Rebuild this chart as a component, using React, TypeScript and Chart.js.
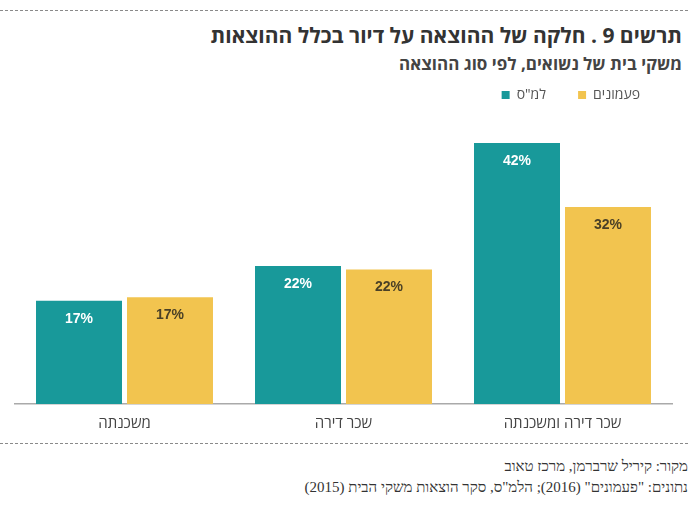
import React, { useEffect, useRef } from "react";
import { Chart, registerables } from "chart.js";

Chart.register(...registerables);

const categories = ["משכנתה", "שכר דירה", "שכר דירה ומשכנתה"];
const seriesNames = ["למ\"ס", "פעמונים"];
const lamasValues = [16.6, 22.2, 42];
const paamonimValues = [17.2, 21.65, 31.7];
const title = "תרשים 9 . חלקה של ההוצאה על דיור בכלל ההוצאות";
const subtitle = "משקי בית של נשואים, לפי סוג ההוצאה";
const sourceLine = "מקור: קיריל שרברמן, מרכז טאוב";
const dataLine = "נתונים: \"פעמונים\" (2016); הלמ\"ס, סקר הוצאות משקי הבית (2015)";

const TEAL = "#18999a";
const YELLOW = "#f2c44f";
const SANS = "'Open Sans', 'Liberation Sans', 'DejaVu Sans', sans-serif";
const SERIF = "'Liberation Serif', 'DejaVu Serif', serif";

const labelPlugin = {
  id: "barLabels",
  afterDatasetsDraw(chart: any) {
    const ctx = chart.ctx;
    ctx.save();
    ctx.font = `bold 14px 'Liberation Sans', Arial, sans-serif`;
    ctx.textAlign = "center";
    ctx.textBaseline = "middle";
    chart.data.datasets.forEach((ds: any, di: number) => {
      const meta = chart.getDatasetMeta(di);
      ctx.fillStyle = di === 0 ? "#ffffff" : "#4a4026";
      meta.data.forEach((bar: any, i: number) => {
        const v = ds.data[i];
        ctx.fillText(Math.round(v) + "%", bar.x, bar.y + 18);
      });
    });
    ctx.restore();
  },
};

const dashed = (top: number): React.CSSProperties => ({
  position: "absolute",
  left: 0,
  top,
  width: 690,
  height: 1,
  backgroundImage: "repeating-linear-gradient(to right, #8a8a8a 0 3px, transparent 3px 5px)",
});

export default function App() {
  const ref = useRef<HTMLCanvasElement | null>(null);
  useEffect(() => {
    if (!ref.current) return;
    const chart = new Chart(ref.current, {
      type: "bar",
      data: {
        labels: categories,
        datasets: [
          { label: seriesNames[0], data: lamasValues, backgroundColor: TEAL },
          { label: seriesNames[1], data: paamonimValues, backgroundColor: YELLOW },
        ],
      },
      options: {
        animation: false,
        responsive: false,
        maintainAspectRatio: false,
        layout: { padding: { left: 15, right: 28, top: 0, bottom: 0 } },
        datasets: { bar: { categoryPercentage: 0.831, barPercentage: 0.945 } },
        plugins: {
          legend: {
            display: true,
            position: "top",
            align: "end",
            labels: {
              boxWidth: 8,
              boxHeight: 8,
              padding: 32,
              color: "#555",
              font: { size: 14, family: SANS },
            },
          },
          tooltip: { enabled: false },
          title: { display: false },
        },
        scales: {
          x: {
            grid: { display: false, drawTicks: false },
            border: { display: true, color: "#aaaaaa", width: 1.5 },
            ticks: { color: "#444", font: { size: 15, family: SANS }, padding: 11 },
          },
          y: { display: false, min: 0, max: 47 },
        },
      },
      plugins: [labelPlugin],
    });
    return () => chart.destroy();
  }, []);

  return (
    <div style={{ position: "absolute", left: 0, top: 0, width: 700, height: 505, background: "#fff" }}>
      <div style={dashed(10)} />
      <div
        dir="rtl"
        style={{
          position: "absolute",
          right: 18,
          top: 20,
          fontFamily: SANS,
          fontWeight: 700,
          fontSize: 21,
          lineHeight: "30px",
          color: "#333",
          whiteSpace: "nowrap",
        }}
      >
        {title}
      </div>
      <div
        dir="rtl"
        style={{
          position: "absolute",
          right: 18,
          top: 53,
          fontFamily: SANS,
          fontWeight: 700,
          fontSize: 17,
          lineHeight: "22px",
          color: "#444",
          whiteSpace: "nowrap",
        }}
      >
        {subtitle}
      </div>
      <canvas ref={ref} width={700} height={388} style={{ position: "absolute", left: 0, top: 56, width: 700, height: 388 }} />
      <div style={dashed(443)} />
      <div
        dir="rtl"
        style={{
          position: "absolute",
          right: 12,
          top: 456,
          fontFamily: SERIF,
          fontSize: 15,
          lineHeight: "20px",
          color: "#333",
          whiteSpace: "nowrap",
        }}
      >
        {sourceLine}
      </div>
      <div
        dir="rtl"
        style={{
          position: "absolute",
          right: 12,
          top: 477,
          fontFamily: SERIF,
          fontSize: 15,
          lineHeight: "20px",
          color: "#333",
          whiteSpace: "nowrap",
        }}
      >
        {dataLine}
      </div>
    </div>
  );
}
